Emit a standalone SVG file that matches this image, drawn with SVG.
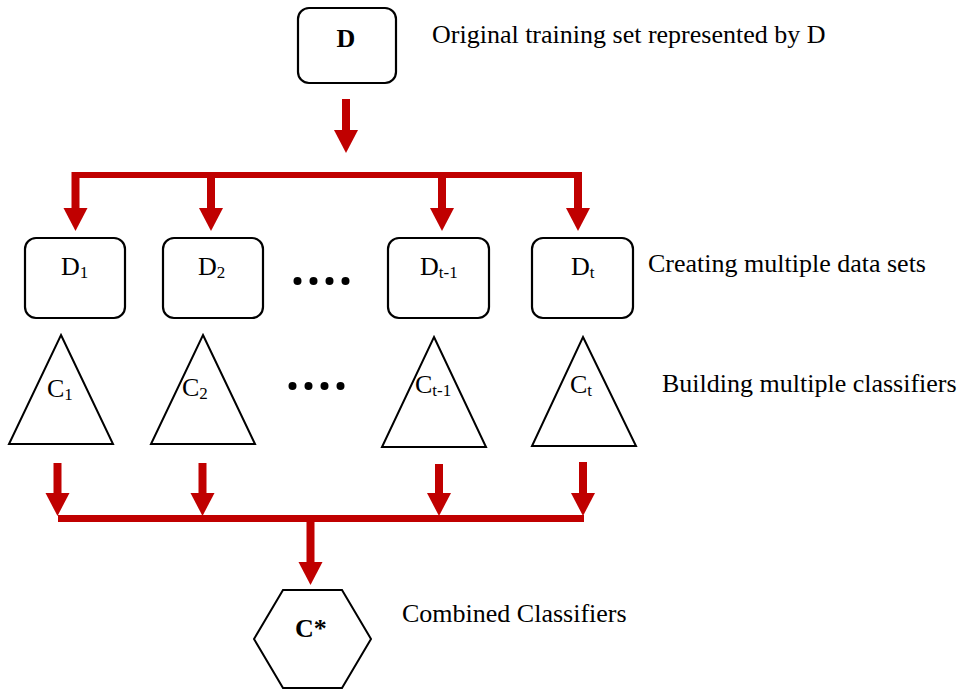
<svg xmlns="http://www.w3.org/2000/svg" width="964" height="690" viewBox="0 0 964 690">
  <style>
    .box { fill: #ffffff; stroke: #000000; stroke-width: 2.2; }
    .shape { fill: #ffffff; stroke: #000000; stroke-width: 2; }
    .lbl { font-family: "Liberation Serif", "Times New Roman", serif; font-size: 26px; fill: #000000; }
    .bold { font-weight: bold; }
    .sub { font-size: 17px; }
    .wire { stroke: #C00000; fill: none; stroke-linecap: butt; }
    .shaft { stroke: #C00000; stroke-width: 8; fill: none; marker-end: url(#head); }
    .dot { fill: #000000; }
  </style>
  <defs>
    <marker id="head" markerUnits="userSpaceOnUse" markerWidth="24" markerHeight="24" refX="0" refY="12" orient="auto" overflow="visible">
      <path d="M0,0 L23,12 L0,24 Z" fill="#C00000"/>
    </marker>
  </defs>

  <rect width="964" height="690" fill="#ffffff"/>

  <!-- source data set -->
  <g id="node-D">
    <rect class="box" x="298" y="8" width="98" height="75" rx="11"/>
    <text class="lbl bold" x="346" y="47" text-anchor="middle">D</text>
  </g>

  <!-- bootstrap samples -->
  <g id="node-D1">
    <rect class="box" x="25" y="238" width="100" height="80" rx="11"/>
    <text class="lbl" x="61" y="275">D<tspan class="sub" dy="3">1</tspan></text>
  </g>
  <g id="node-D2">
    <rect class="box" x="163" y="238" width="100" height="80" rx="11"/>
    <text class="lbl" x="198" y="275">D<tspan class="sub" dy="3">2</tspan></text>
  </g>
  <g id="node-Dt-1">
    <rect class="box" x="388" y="238" width="101" height="80" rx="11"/>
    <text class="lbl" x="420" y="275">D<tspan class="sub" dy="3">t-1</tspan></text>
  </g>
  <g id="node-Dt">
    <rect class="box" x="532" y="238" width="101" height="80" rx="11"/>
    <text class="lbl" x="571" y="275">D<tspan class="sub" dy="3">t</tspan></text>
  </g>
  <g id="ellipsis-data">
    <circle class="dot" cx="297.5" cy="281" r="4"/>
    <circle class="dot" cx="313.5" cy="281" r="4"/>
    <circle class="dot" cx="329.5" cy="281" r="4"/>
    <circle class="dot" cx="345.5" cy="281" r="4"/>
  </g>

  <!-- base classifiers -->
  <g id="node-C1">
    <polygon class="shape" points="61,335 113,444 9,444"/>
    <text class="lbl" x="47" y="397">C<tspan class="sub" dy="3">1</tspan></text>
  </g>
  <g id="node-C2">
    <polygon class="shape" points="203,335 255,444 151,444"/>
    <text class="lbl" x="182" y="396">C<tspan class="sub" dy="3">2</tspan></text>
  </g>
  <g id="node-Ct-1">
    <polygon class="shape" points="434,337 486,447 382,447"/>
    <text class="lbl" x="415" y="393">C<tspan class="sub" dy="3">t-1</tspan></text>
  </g>
  <g id="node-Ct">
    <polygon class="shape" points="583,337 636,446 532,446"/>
    <text class="lbl" x="570" y="393">C<tspan class="sub" dy="3">t</tspan></text>
  </g>
  <g id="ellipsis-classifiers">
    <circle class="dot" cx="292.5" cy="386" r="4"/>
    <circle class="dot" cx="308.5" cy="386" r="4"/>
    <circle class="dot" cx="324.5" cy="386" r="4"/>
    <circle class="dot" cx="340.5" cy="386" r="4"/>
  </g>

  <!-- combined classifier -->
  <g id="node-Cstar">
    <polygon class="shape" points="283,590 342,590 371,639 342,688 283,688 254,639"/>
    <text class="lbl bold" x="295" y="637">C*</text>
  </g>

  <!-- side captions -->
  <g id="captions">
    <text class="lbl" x="432" y="43">Original training set represented by D</text>
    <text class="lbl" x="648" y="272">Creating multiple data sets</text>
    <text class="lbl" x="662" y="392">Building multiple classifiers</text>
    <text class="lbl" x="402" y="622">Combined Classifiers</text>
  </g>

  <!-- connectors -->
  <g id="connectors">
    <line class="shaft" x1="346" y1="99" x2="346" y2="130"/>
    <line class="wire" x1="72" y1="175" x2="581" y2="175" stroke-width="6"/>
    <line class="shaft" x1="75.5" y1="172" x2="75.5" y2="208"/>
    <line class="shaft" x1="211" y1="172" x2="211" y2="208"/>
    <line class="shaft" x1="442" y1="172" x2="442" y2="208"/>
    <line class="shaft" x1="578" y1="172" x2="578" y2="208"/>

    <line class="shaft" x1="57.5" y1="463" x2="57.5" y2="493"/>
    <line class="shaft" x1="202.5" y1="463" x2="202.5" y2="493"/>
    <line class="shaft" x1="439" y1="464" x2="439" y2="493"/>
    <line class="shaft" x1="583" y1="462" x2="583" y2="493"/>
    <line class="wire" x1="58" y1="518.5" x2="584" y2="518.5" stroke-width="7"/>
    <line class="shaft" x1="310.5" y1="515" x2="310.5" y2="562"/>
  </g>
</svg>
